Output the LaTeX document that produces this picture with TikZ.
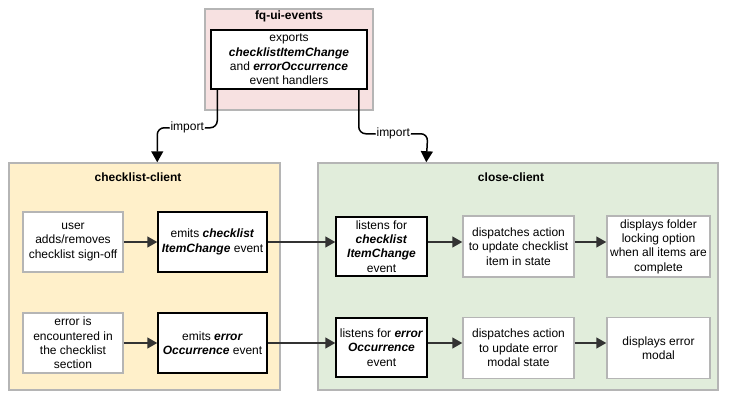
\documentclass[tikz,border=0pt]{standalone}
\usepackage{fontspec}
\setmainfont{Liberation Sans}
\usepackage{tikz}
\usetikzlibrary{arrows.meta}
\definecolor{pinkfill}{HTML}{F7E1E1}
\definecolor{yellowfill}{HTML}{FFF0CA}
\definecolor{greenfill}{HTML}{E1EDDB}
\definecolor{edgegray}{HTML}{B5B5B5}
\definecolor{arrowgray}{HTML}{333333}
\tikzstyle{group}=[draw=edgegray,line width=1.5pt,inner sep=0pt]
\tikzstyle{grouptitle}=[font=\fontsize{12}{14.4}\selectfont\bfseries]
\tikzstyle{plainbox}=[draw=edgegray,fill=white,line width=1.5pt,align=center,inner sep=1pt,font=\fontsize{12}{14.4}\selectfont]
\tikzstyle{keybox}=[draw=black,fill=white,line width=1.5pt,align=center,inner sep=1pt,font=\fontsize{12}{14.4}\selectfont]
\tikzstyle{flow}=[draw=arrowgray,line width=1.5pt,-{Triangle[length=10pt,width=11pt]}]
\tikzstyle{imparrow}=[draw=black,line width=1.5pt,rounded corners=7pt,-{Triangle[length=11pt,width=12pt]}]
\tikzstyle{lbl}=[fill=white,inner sep=1pt,font=\fontsize{12}{14.4}\selectfont]
\newcommand{\bi}[1]{\textbf{\textit{#1}}}

\begin{document}
\begin{tikzpicture}[x=1pt,y=-1pt]
          \useasboundingbox[fill=white] (0,0) rectangle (738,409);
          % fq-ui-events
          \node[group,fill=pinkfill,minimum width=168pt,minimum height=101pt] (fq) at (289,59.5) {};
          \node[grouptitle] (fqtitle) at (289,16) {fq-ui-events};
          \node[keybox,minimum width=156pt,minimum height=59pt] (exports) at (289,59.5)
            {exports\\ \bi{checklistItemChange}\\ and \bi{errorOccurrence}\\ event handlers};
          % clients
          \node[group,fill=yellowfill,minimum width=271pt,minimum height=227pt] (checklist) at (144.5,276.5) {};
          \node[grouptitle] (checklisttitle) at (138,177) {checklist-client};
          \node[group,fill=greenfill,minimum width=400pt,minimum height=227pt] (close) at (518,276.5) {};
          \node[grouptitle] (closetitle) at (511,177) {close-client};
          % checklist-client steps
          \node[plainbox,minimum width=100pt,minimum height=60pt] (user) at (73,242) {user\\ adds/removes\\ checklist sign-off};
          \node[keybox,minimum width=109pt,minimum height=60pt] (emitsA) at (212.5,242) {emits \bi{checklist}\\ \bi{ItemChange} event};
          \node[plainbox,minimum width=100pt,minimum height=60pt] (error) at (73,343) {error is\\ encountered in\\ the checklist\\ section};
          \node[keybox,minimum width=109pt,minimum height=60pt] (emitsB) at (212.5,343) {emits \bi{error}\\ \bi{Occurrence} event};
          % close-client steps
          \node[keybox,minimum width=91pt,minimum height=59pt] (listenA) at (381.5,246.5) {listens for\\ \bi{checklist}\\ \bi{ItemChange}\\ event};
          \node[plainbox,minimum width=111pt,minimum height=61pt] (dispA) at (518.5,246.5) {dispatches action\\ to update checklist\\ item in state};
          \node[plainbox,minimum width=103pt,minimum height=61pt] (showA) at (658.5,246.5) {displays folder\\ locking option\\ when all items are\\ complete};
          \node[keybox,minimum width=91pt,minimum height=59pt] (listenB) at (381.5,347.5) {listens for \bi{error}\\ \bi{Occurrence}\\ event};
          \node[plainbox,minimum width=111pt,minimum height=61pt] (dispB) at (518.5,348) {dispatches action\\ to update error\\ modal state};
          \node[plainbox,minimum width=103pt,minimum height=61pt] (showB) at (658.5,348) {displays error\\ modal};
          % imports
          \draw[imparrow] ([xshift=7pt]exports.south west) -- ++(0,38) -- node[lbl] {import} ++(-60,0) -- ([xshift=149pt]checklist.north west);
          \draw[imparrow] ([xshift=-9pt]exports.south east) -- ++(0,44) -- node[lbl] {import} ++(69,0) -- ([xshift=109pt]close.north west);
          % flows
          \draw[flow] (user) -- (emitsA);
          \draw[flow] (error) -- (emitsB);
          \draw[flow] (emitsA.east) -- (emitsA.east -| listenA.west);
          \draw[flow] (emitsB.east) -- (emitsB.east -| listenB.west);
          \draw[flow] (listenA.east |- emitsA.east) -- (emitsA.east -| dispA.west);
          \draw[flow] (dispA.east |- emitsA.east) -- (emitsA.east -| showA.west);
          \draw[flow] (listenB.east |- emitsB.east) -- (emitsB.east -| dispB.west);
          \draw[flow] (dispB.east |- emitsB.east) -- (emitsB.east -| showB.west);
        \end{tikzpicture}
\end{document}
